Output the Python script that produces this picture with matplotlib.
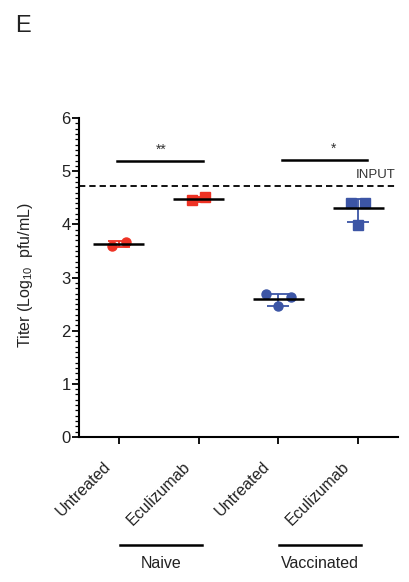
import numpy as np
import matplotlib
matplotlib.use("Agg")
import matplotlib.pyplot as plt
from matplotlib.transforms import ScaledTranslation

plt.rcParams['font.family'] = ['Liberation Sans', 'DejaVu Sans']
plt.rcParams['mathtext.fontset'] = 'custom'
plt.rcParams['mathtext.rm'] = 'Liberation Sans'
plt.rcParams['mathtext.it'] = 'Liberation Sans:italic'

# data
groups = ['Untreated', 'Eculizumab', 'Untreated', 'Eculizumab']
cohorts = ['Naive', 'Vaccinated']
point_values = [
    [3.60, 3.675],
    [4.45, 4.51],
    [2.69, 2.46, 2.63],
    [4.41, 4.41, 3.98],
]
point_offsets = [
    [-0.085, 0.085],
    [-0.085, 0.085],
    [-0.16, 0.0, 0.16],
    [-0.085, 0.085, 0.0],
]
means = [3.63, 4.48, 2.59, 4.31]
err_lo = [0.05, 0.05, 0.13, 0.26]
err_hi = [0.06, 0.04, 0.10, 0.16]
markers = ['o', 's', 'o', 's']
colors = ['#ee3224', '#ee3224', '#3c55a5', '#3c55a5']
input_level = 4.72
sig_pairs = [(-0.03, 1.05, 5.19, '**', 0.53), (2.04, 3.11, 5.22, '*', 2.69)]

fig = plt.figure(figsize=(4.09, 5.82), dpi=100)
ax = fig.add_axes([0.1932, 0.2491, 0.78, 0.548])

x = np.arange(len(groups))
for i in range(len(groups)):
    xs = x[i] + np.array(point_offsets[i])
    ax.errorbar(x[i], means[i], yerr=[[err_lo[i]], [err_hi[i]]], fmt='none',
                ecolor=colors[i], elinewidth=1.3, capsize=8, capthick=1.3, zorder=2)
    ax.plot(xs, point_values[i], linestyle='none', marker=markers[i],
            color=colors[i], markersize=6.5, zorder=3)
    ax.hlines(means[i], x[i] - 0.32, x[i] + 0.32, color='black', linewidth=1.8, zorder=4)

ax.axhline(input_level, color='black', linestyle=(0, (3.5, 2.2)), linewidth=1.3)
ax.text(3.47, input_level + 0.1, 'INPUT', ha='right', va='bottom', fontsize=9.5, color='#333333')

for x0, x1, y, label, tx in sig_pairs:
    ax.plot([x0, x1], [y, y], color='black', linewidth=1.8)
    ax.text(tx, y + 0.08, label, ha='center', va='bottom', fontsize=10, color='#333333')

ax.set_xlim(-0.5, 3.5)
ax.set_ylim(0, 6)
ax.set_xticks(x)
ax.set_xticklabels([])
ax.set_yticks(np.arange(0, 7, 1))
ax.set_yticks(np.arange(0, 6.01, 0.1), minor=True)
ax.tick_params(axis='y', labelsize=12, labelcolor='#222222', length=5, width=1.3, pad=1)
ax.tick_params(axis='y', which='minor', length=3, width=0.9)
ax.tick_params(axis='x', length=5, width=1.3)
for s in ['top', 'right']:
    ax.spines[s].set_visible(False)
for s in ['left', 'bottom']:
    ax.spines[s].set_linewidth(1.5)

# rotated group labels, nudged left of their ticks
trans = ax.get_xaxis_transform()
lbl_trans = trans + ScaledTranslation(-0.11, -0.27, fig.dpi_scale_trans)
for xi, name in zip(x, groups):
    ax.text(xi, 0, name, rotation=45, ha='right', va='center', rotation_mode='anchor',
            fontsize=11.5, color='#222222', transform=lbl_trans, clip_on=False)

# cohort brackets under the tick labels
for j, name in enumerate(cohorts):
    a, b = x[2 * j] + 0.01, x[2 * j + 1] + 0.04
    ax.plot([a, b], [-0.339, -0.339], color='black', linewidth=1.8,
            transform=trans, clip_on=False)
    ax.text((a + b) / 2, -0.395, name, ha='center', va='center', fontsize=11.5,
            color='#222222', transform=trans)

fig.text(26 / 409, 1 - 275 / 582, r'Titer (Log$_{10}$  pfu/mL)', rotation=90,
         ha='center', va='center', fontsize=11.5, color='#222222')
fig.text(15 / 409, 1 - 32 / 582, 'E', fontsize=17, color='#222222', va='baseline')

fig.savefig('out.png', dpi=100)
